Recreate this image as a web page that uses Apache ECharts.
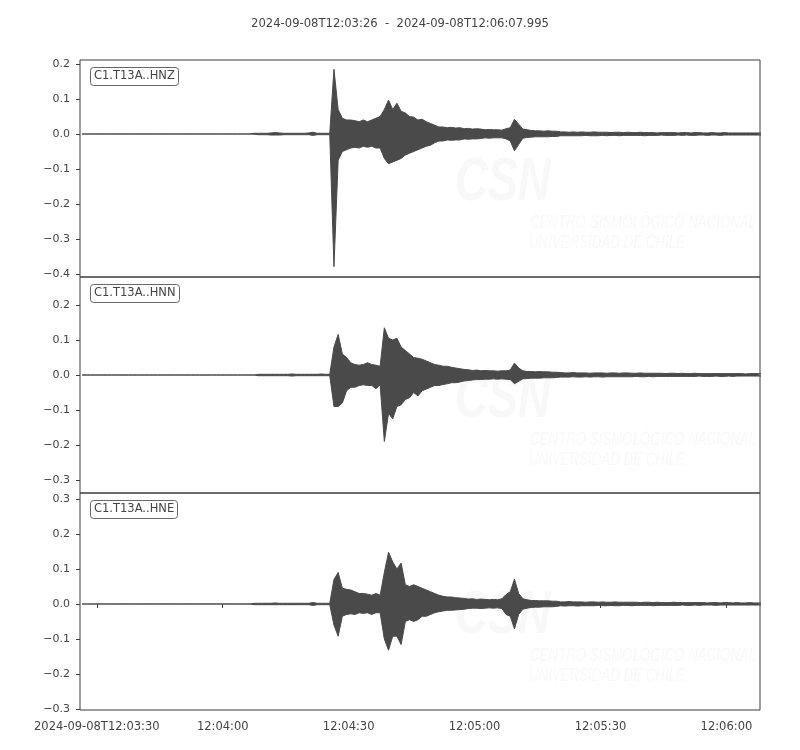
<!DOCTYPE html>
<html>
<head>
<meta charset="utf-8">
<script src="https://cdn.jsdelivr.net/npm/echarts@6/dist/echarts.min.js"></script>
<style>
  html, body { margin: 0; padding: 0; background: #ffffff; }
  #chart { width: 800px; height: 750px; }
</style>
</head>
<body>
<div id="chart"></div>
<script>
// ---- Data (envelope of each trace, 1-second bins from 12:03:26 UTC) ----
var startTimeText = '2024-09-08T12:03:26';
var endTimeText = '2024-09-08T12:06:07.995';
var channelNames = ['C1.T13A..HNZ', 'C1.T13A..HNN', 'C1.T13A..HNE'];
var xTickLabels = ['12:03:30', '12:04:00', '12:04:30', '12:05:00', '12:05:30', '12:06:00'];
var datePrefix = '2024-09-08T';

var hnzUpper = [
  0,0,0,0,0,0,0,0,0,0,
  0,0,0,0,0,0,0,0,0,0,
  0,0,0,0,0,0,0,0,0,0,
  0,0,0,0,0,0,0,0,0,0,
  0,0.002,0.002,0.002,0.002,0.003,0.004,0.003,0.002,0.002,
  0.002,0.002,0.002,0.002,0.003,0.005,0.002,0.002,0.002,0.002,
  0.185,0.07,0.045,0.04,0.04,0.038,0.035,0.04,0.035,0.04,
  0.045,0.05,0.07,0.097,0.07,0.088,0.065,0.06,0.05,0.048,
  0.04,0.042,0.035,0.03,0.025,0.02,0.02,0.018,0.019,0.017,
  0.018,0.015,0.016,0.014,0.015,0.014,0.012,0.013,0.012,0.012,
  0.011,0.015,0.018,0.042,0.028,0.014,0.012,0.01,0.009,0.009,
  0.008,0.009,0.008,0.008,0.006,0.006,0.005,0.006,0.005,0.006,
  0.005,0.005,0.006,0.005,0.005,0.005,0.004,0.005,0.005,0.004,
  0.005,0.004,0.004,0.005,0.004,0.004,0.004,0.003,0.004,0.004,
  0.004,0.004,0.003,0.004,0.004,0.003,0.004,0.004,0.003,0.003,
  0.004,0.003,0.003,0.004,0.003,0.003,0.003,0.003,0.003,0.003,
  0.003,0.003,0.003
];
var hnzLower = [
  0,0,0,0,0,0,0,0,0,0,
  0,0,0,0,0,0,0,0,0,0,
  0,0,0,0,0,0,0,0,0,0,
  0,0,0,0,0,0,0,0,0,0,
  0,-0.001,-0.002,-0.002,-0.002,-0.003,-0.003,-0.003,-0.002,-0.002,
  -0.002,-0.002,-0.002,-0.002,-0.002,-0.004,-0.002,-0.002,-0.002,-0.002,
  -0.379,-0.075,-0.05,-0.045,-0.04,-0.038,-0.04,-0.035,-0.038,-0.035,
  -0.04,-0.04,-0.07,-0.085,-0.08,-0.075,-0.07,-0.06,-0.055,-0.05,
  -0.045,-0.04,-0.035,-0.032,-0.025,-0.02,-0.02,-0.017,-0.018,-0.017,
  -0.017,-0.014,-0.015,-0.014,-0.014,-0.013,-0.011,-0.012,-0.011,-0.011,
  -0.011,-0.014,-0.02,-0.048,-0.03,-0.012,-0.01,-0.009,-0.008,-0.008,
  -0.008,-0.008,-0.007,-0.007,-0.005,-0.005,-0.005,-0.005,-0.005,-0.005,
  -0.004,-0.005,-0.005,-0.005,-0.004,-0.005,-0.004,-0.004,-0.005,-0.004,
  -0.004,-0.004,-0.004,-0.004,-0.005,-0.004,-0.004,-0.004,-0.003,-0.004,
  -0.004,-0.004,-0.003,-0.004,-0.003,-0.004,-0.004,-0.003,-0.003,-0.004,
  -0.003,-0.003,-0.004,-0.003,-0.003,-0.003,-0.003,-0.003,-0.003,-0.003,
  -0.003,-0.003,-0.003
];

var hnnUpper = [
  0,0,0,0,0,0,0,0,0,0,
  0,0,0,0,0,0,0,0,0,0,
  0,0,0,0,0,0,0,0,0,0,
  0,0,0,0,0,0,0,0,0,0,
  0,0,0.002,0.002,0.002,0.002,0.002,0.002,0.002,0.002,
  0.003,0.002,0.002,0.002,0.002,0.002,0.002,0.003,0.002,0.002,
  0.08,0.116,0.06,0.05,0.035,0.03,0.028,0.03,0.035,0.03,
  0.028,0.025,0.135,0.105,0.1,0.105,0.08,0.07,0.06,0.05,
  0.048,0.045,0.04,0.035,0.03,0.028,0.025,0.025,0.022,0.02,
  0.018,0.016,0.015,0.013,0.014,0.012,0.013,0.012,0.012,0.011,
  0.012,0.012,0.014,0.034,0.02,0.012,0.01,0.01,0.009,0.01,
  0.009,0.009,0.008,0.008,0.007,0.006,0.006,0.007,0.006,0.006,
  0.006,0.005,0.006,0.006,0.006,0.005,0.006,0.006,0.005,0.006,
  0.006,0.005,0.005,0.006,0.005,0.005,0.005,0.005,0.005,0.004,
  0.005,0.005,0.004,0.005,0.004,0.004,0.005,0.004,0.004,0.004,
  0.004,0.004,0.004,0.004,0.004,0.004,0.004,0.004,0.003,0.004,
  0.004,0.004,0.004
];
var hnnLower = [
  0,0,0,0,0,0,0,0,0,0,
  0,0,0,0,0,0,0,0,0,0,
  0,0,0,0,0,0,0,0,0,0,
  0,0,0,0,0,0,0,0,0,0,
  0,0,-0.002,-0.002,-0.002,-0.002,-0.002,-0.002,-0.002,-0.002,
  -0.003,-0.002,-0.002,-0.002,-0.002,-0.002,-0.002,-0.002,-0.002,-0.002,
  -0.09,-0.09,-0.08,-0.045,-0.035,-0.035,-0.03,-0.028,-0.03,-0.03,
  -0.039,-0.028,-0.19,-0.11,-0.125,-0.09,-0.085,-0.07,-0.065,-0.05,
  -0.06,-0.045,-0.04,-0.035,-0.03,-0.03,-0.027,-0.025,-0.022,-0.022,
  -0.02,-0.017,-0.016,-0.014,-0.013,-0.013,-0.012,-0.012,-0.011,-0.012,
  -0.011,-0.012,-0.013,-0.025,-0.018,-0.011,-0.01,-0.009,-0.009,-0.009,
  -0.008,-0.008,-0.008,-0.007,-0.006,-0.006,-0.006,-0.005,-0.006,-0.006,
  -0.005,-0.006,-0.005,-0.005,-0.006,-0.005,-0.005,-0.005,-0.005,-0.005,
  -0.005,-0.005,-0.004,-0.005,-0.005,-0.004,-0.005,-0.004,-0.004,-0.004,
  -0.004,-0.004,-0.004,-0.004,-0.004,-0.004,-0.004,-0.003,-0.004,-0.004,
  -0.004,-0.003,-0.004,-0.004,-0.003,-0.004,-0.003,-0.003,-0.003,-0.003,
  -0.003,-0.003,-0.003
];

var hneUpper = [
  0,0,0,0,0,0,0,0,0,0,
  0,0,0,0,0,0,0,0,0,0,
  0,0,0,0,0,0,0,0,0,0,
  0,0,0,0,0,0,0,0,0,0,
  0,0.002,0.002,0.002,0.002,0.002,0.003,0.002,0.002,0.002,
  0.002,0.002,0.002,0.002,0.002,0.004,0.002,0.002,0.002,0.002,
  0.07,0.09,0.045,0.042,0.04,0.035,0.03,0.03,0.028,0.025,
  0.03,0.025,0.09,0.148,0.12,0.1,0.117,0.055,0.05,0.055,
  0.05,0.045,0.04,0.035,0.03,0.025,0.022,0.02,0.02,0.018,
  0.017,0.016,0.014,0.015,0.013,0.014,0.013,0.012,0.013,0.012,
  0.015,0.027,0.035,0.071,0.03,0.015,0.012,0.01,0.01,0.009,
  0.009,0.009,0.008,0.008,0.006,0.006,0.007,0.006,0.006,0.006,
  0.005,0.006,0.006,0.005,0.006,0.005,0.005,0.006,0.005,0.005,
  0.005,0.005,0.005,0.004,0.005,0.005,0.004,0.005,0.004,0.004,
  0.004,0.005,0.004,0.004,0.004,0.004,0.004,0.004,0.004,0.003,
  0.004,0.004,0.003,0.004,0.004,0.003,0.004,0.003,0.003,0.004,
  0.003,0.003,0.003
];
var hneLower = [
  0,0,0,0,0,0,0,0,0,0,
  0,0,0,0,0,0,0,0,0,0,
  0,0,0,0,0,0,0,0,0,0,
  0,0,0,0,0,0,0,0,0,0,
  0,-0.002,-0.002,-0.002,-0.002,-0.002,-0.002,-0.002,-0.002,-0.002,
  -0.002,-0.002,-0.002,-0.002,-0.002,-0.004,-0.002,-0.002,-0.002,-0.002,
  -0.06,-0.092,-0.035,-0.03,-0.028,-0.03,-0.025,-0.027,-0.025,-0.03,
  -0.025,-0.025,-0.1,-0.132,-0.092,-0.092,-0.116,-0.05,-0.045,-0.05,
  -0.045,-0.035,-0.035,-0.03,-0.025,-0.022,-0.02,-0.018,-0.018,-0.017,
  -0.016,-0.015,-0.013,-0.012,-0.012,-0.013,-0.012,-0.011,-0.012,-0.011,
  -0.013,-0.03,-0.035,-0.071,-0.03,-0.015,-0.012,-0.01,-0.009,-0.009,
  -0.008,-0.008,-0.008,-0.007,-0.005,-0.006,-0.005,-0.005,-0.006,-0.005,
  -0.005,-0.005,-0.005,-0.004,-0.005,-0.005,-0.004,-0.005,-0.005,-0.004,
  -0.004,-0.005,-0.004,-0.004,-0.004,-0.004,-0.005,-0.004,-0.004,-0.004,
  -0.004,-0.004,-0.004,-0.003,-0.004,-0.004,-0.003,-0.004,-0.003,-0.003,
  -0.003,-0.004,-0.003,-0.003,-0.003,-0.003,-0.003,-0.003,-0.003,-0.003,
  -0.003,-0.003,-0.003
];

// y-axis ranges of the three panels
var yMins = [-0.4086, -0.3371, -0.3029];
var yMaxs = [0.2114, 0.2800, 0.3171];

// ---- Build chart ----
var T0 = Date.UTC(2024, 8, 8, 12, 3, 26, 0);
var T1 = T0 + 161995;
function toPairs(arr) {
  var out = [];
  for (var i = 0; i < arr.length; i++) out.push([T0 + (i + 0.5) * 1000, arr[i]]);
  return out;
}
function labelToTime(s) {
  var p = s.split(':');
  return Date.UTC(2024, 8, 8, +p[0], +p[1], +p[2], 0);
}
var xTickValues = xTickLabels.map(labelToTime);
function pad(n) { return (n < 10 ? '0' : '') + n; }
function hms(v) {
  var d = new Date(v);
  return pad(d.getUTCHours()) + ':' + pad(d.getUTCMinutes()) + ':' + pad(d.getUTCSeconds());
}
var traces = [[hnzUpper, hnzLower], [hnnUpper, hnnLower], [hneUpper, hneLower]];
var gridTops = [60, 277, 493];
var gridHeights = [217, 216, 217];
var TXT = '#444444';
var AX = '#3c3c3c';
var WAVE = '#4a4a4a';
var WM = '#f8f8f8';
var font = 'DejaVu Sans';

var grids = [], xAxes = [], yAxes = [], series = [], titles = [], graphics = [];
titles.push({
  text: startTimeText + '  -  ' + endTimeText,
  left: 'center', top: 13,
  textStyle: { fontSize: 11.6, fontWeight: 'normal', color: TXT, fontFamily: font }
});
for (var p = 0; p < 3; p++) {
  grids.push({ left: 80, width: 680, top: gridTops[p], height: gridHeights[p],
    show: true, borderColor: AX, borderWidth: 1, backgroundColor: 'transparent' });
  var isBottom = (p === 2);
  xAxes.push({
    type: 'value', gridIndex: p, min: T0, max: T1, scale: true,
    axisLine: { show: false },
    axisTick: { show: isBottom, length: 4, lineStyle: { color: AX }, customValues: xTickValues },
    splitLine: { show: false },
    axisLabel: {
      show: isBottom, fontSize: 11.5, color: TXT, fontFamily: font, margin: 11,
      customValues: xTickValues,
      formatter: function (v) {
        var s = hms(v);
        if (v === xTickValues[0]) return datePrefix + s;
        return s;
      }
    }
  });
  yAxes.push({
    type: 'value', gridIndex: p, min: yMins[p], max: yMaxs[p], splitNumber: 6,
    axisLine: { show: false },
    axisTick: { show: true, length: 4, lineStyle: { color: AX } },
    splitLine: { show: false },
    axisLabel: {
      fontSize: 11, color: TXT, fontFamily: font, margin: 10,
      showMinLabel: false, showMaxLabel: false,
      formatter: function (v) {
        var r = Math.round(v * 10) / 10;
        if (Math.abs(r) < 1e-9) return '0.0';
        return (r < 0 ? '\u2212' : '') + Math.abs(r).toFixed(1);
      }
    }
  });
  for (var k = 0; k < 2; k++) {
    series.push({
      type: 'line', xAxisIndex: p, yAxisIndex: p,
      data: toPairs(traces[p][k]),
      showSymbol: false, symbol: 'none', silent: true, clip: true,
      lineStyle: { color: WAVE, width: 1 },
      areaStyle: { color: WAVE, opacity: 1 },
      z: 3
    });
  }
  titles.push({
    text: channelNames[p], left: 90, top: gridTops[p] + 7,
    padding: [3, 4, 3, 4], borderColor: '#666666', borderWidth: 1, borderRadius: 3,
    backgroundColor: '#ffffff',
    textStyle: { fontSize: 11.5, fontWeight: 'normal', color: TXT, fontFamily: font, lineHeight: 13 }
  });
  // faint watermark
  var off = gridTops[p] - 60;
  graphics.push({ type: 'text', x: 455, y: 152 + off, z: 0, silent: true, scaleX: 0.73,
    style: { text: 'CSN', fill: WM, font: 'italic bold 62px "Liberation Sans"' } });
  graphics.push({ type: 'text', x: 530, y: 213 + off, z: 0, silent: true, scaleX: 0.7,
    style: { text: 'CENTRO SISMOLÓGICO NACIONAL', fill: WM, font: 'italic 19px "Liberation Sans"' } });
  graphics.push({ type: 'text', x: 529, y: 233 + off, z: 0, silent: true, scaleX: 0.7,
    style: { text: 'UNIVERSIDAD DE CHILE', fill: WM, font: 'italic 19px "Liberation Sans"' } });
}

var chart = echarts.init(document.getElementById('chart'), null, { renderer: 'canvas' });
chart.setOption({
  animation: false,
  backgroundColor: '#ffffff',
  title: titles,
  grid: grids,
  xAxis: xAxes,
  yAxis: yAxes,
  series: series,
  graphic: graphics
});
</script>
</body>
</html>
